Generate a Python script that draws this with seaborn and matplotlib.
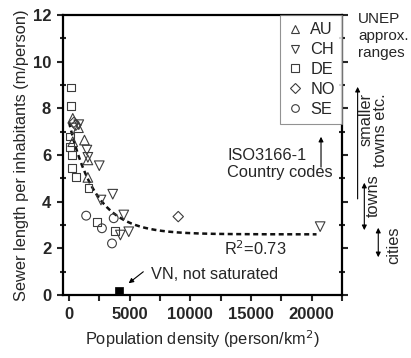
import numpy as np
import pandas as pd
import matplotlib
matplotlib.use('Agg')
import matplotlib.pyplot as plt
import seaborn as sns
from matplotlib.lines import Line2D

# data
au_x = [305, 775, 305, 1270, 1550, 1550]
au_y = [7.57, 7.17, 6.57, 6.64, 5.79, 5.04]
ch_x = [800, 1470, 1550, 2490, 3600, 2630, 4510, 4920, 4230, 20700]
ch_y = [7.3, 6.21, 5.9, 5.54, 4.32, 4.07, 3.43, 2.71, 2.57, 2.93]
de_x = [166, 166, 83, 83, 274, 224, 556, 1600, 2300, 3820]
de_y = [8.89, 8.11, 6.79, 6.33, 6.0, 5.46, 5.07, 4.57, 3.14, 2.76]
no_x = [400, 560, 9000]
no_y = [7.4, 7.28, 3.36]
se_x = [1410, 2710, 3680, 3540]
se_y = [3.4, 2.86, 3.29, 2.21]
vn_x = [4100]
vn_y = [0.17]

countries = ['AU', 'CH', 'DE', 'NO', 'SE']
marker_map = {'AU': '^', 'CH': 'v', 'DE': 's', 'NO': 'D', 'SE': 'o'}
size_map = {'AU': 48, 'CH': 48, 'DE': 32, 'NO': 28, 'SE': 40}

# exponential fit: y = c + a*exp(-x/t)
fit_c, fit_a, fit_t = 2.6, 4.8, 2200
fit_xmax = 20400

df = pd.concat([
    pd.DataFrame({'x': au_x, 'y': au_y, 'Country': 'AU'}),
    pd.DataFrame({'x': ch_x, 'y': ch_y, 'Country': 'CH'}),
    pd.DataFrame({'x': de_x, 'y': de_y, 'Country': 'DE'}),
    pd.DataFrame({'x': no_x, 'y': no_y, 'Country': 'NO'}),
    pd.DataFrame({'x': se_x, 'y': se_y, 'Country': 'SE'}),
])

sns.set_style('ticks')
plt.rcParams['font.family'] = ['Liberation Sans', 'DejaVu Sans']
fs = 11.8

fig = plt.figure(figsize=(4.11, 3.58), dpi=100)
ax = fig.add_axes([63 / 411, 1 - 295 / 358, 279 / 411, 280 / 358])

# fitted curve
fx = np.linspace(0, fit_xmax, 300)
fy = fit_c + fit_a * np.exp(-fx / fit_t)
sns.lineplot(x=fx, y=fy, ax=ax, color='#111111', linewidth=1.8,
             linestyle=(0, (2.0, 1.4)), legend=False)

for c in countries:
    sub = df[df['Country'] == c]
    sns.scatterplot(data=sub, x='x', y='y', ax=ax, marker=marker_map[c],
                    s=size_map[c], facecolor='none', edgecolor='#3c3c3c',
                    linewidth=0.8, legend=False, zorder=3)

sns.scatterplot(x=vn_x, y=vn_y, ax=ax, marker='s', s=40, color='black',
                edgecolor='black', legend=False, zorder=4, clip_on=False)

ax.set_xlim(-500, 22500)
ax.set_ylim(0, 12)
ax.set_xticks([0, 5000, 10000, 15000, 20000])
ax.set_xticks(np.arange(0, 22501, 2500), minor=True)
ax.set_yticks([0, 2, 4, 6, 8, 10, 12])
ax.set_yticks(np.arange(0, 12.1, 1), minor=True)
ax.set_xlabel('Population density (person/km$^2$)', fontsize=fs, labelpad=5)
ax.set_ylabel('Sewer length per inhabitants (m/person)', fontsize=fs, labelpad=3)

for s in ax.spines.values():
    s.set_linewidth(1.6)
    s.set_color('black')
ax.tick_params(axis='both', which='major', width=1.5, length=4.5, pad=4,
               labelsize=12, right=True, top=False)
ax.tick_params(axis='x', which='minor', width=1.5, length=4.5, direction='out')
ax.tick_params(axis='y', which='minor', width=1.5, length=4, direction='inout', right=True)
for lab in ax.get_xticklabels() + ax.get_yticklabels():
    lab.set_fontweight('bold')

# legend
handles = [Line2D([], [], marker=marker_map[c], linestyle='none', markerfacecolor='none',
                  markeredgecolor='#3c3c3c', markersize=5.5, markeredgewidth=0.8)
           for c in countries]
leg = ax.legend(handles, countries, loc='upper right', frameon=True, fancybox=False,
                borderaxespad=0, fontsize=fs, labelspacing=0.3, handletextpad=0.4,
                handlelength=1.0, borderpad=0.45)
leg.get_frame().set_edgecolor('#777777')
leg.get_frame().set_linewidth(0.8)

# annotations
ax.text(12780, 2.0, 'R$^2$=0.73', fontsize=fs, va='center', ha='left')
ax.text(13030, 5.6, 'ISO3166-1\nCountry codes', fontsize=fs, va='center', ha='left',
        linespacing=1.15)
ax.annotate('', xy=(20770, 6.9), xytext=(20770, 5.36),
            arrowprops=dict(arrowstyle='-|>', color='black', lw=0.8, mutation_scale=7))
ax.text(6720, 0.88, 'VN, not saturated', fontsize=fs, va='center', ha='left')
ax.annotate('', xy=(4730, 0.43), xytext=(6300, 1.07),
            arrowprops=dict(arrowstyle='-|>', color='black', lw=0.8, mutation_scale=7))

# UNEP ranges on the right
tr = ax.get_yaxis_transform()
ax.text(1.057, 1.01, 'UNEP\napprox.\nranges', transform=ax.transAxes, va='top', ha='left',
        fontsize=11, linespacing=1.25)
ax.annotate('', xy=(1.056, 9.04), xytext=(1.056, 4.0), xycoords=tr, textcoords=tr,
            arrowprops=dict(arrowstyle='-|>', color='black', lw=0.8, mutation_scale=7),
            annotation_clip=False)
ax.annotate('', xy=(1.080, 4.93), xytext=(1.080, 2.66), xycoords=tr, textcoords=tr,
            arrowprops=dict(arrowstyle='<|-|>', color='black', lw=0.8, mutation_scale=7),
            annotation_clip=False)
ax.annotate('', xy=(1.130, 3.0), xytext=(1.130, 1.5), xycoords=tr, textcoords=tr,
            arrowprops=dict(arrowstyle='<|-|>', color='black', lw=0.8, mutation_scale=7),
            annotation_clip=False)
ax.text(1.112, 7.07, 'smaller\ntowns etc.', transform=tr, rotation=90, va='center',
        ha='center', multialignment='right', fontsize=fs, linespacing=0.95)
ax.text(1.112, 4.24, 'towns', transform=tr, rotation=90, va='center', ha='center',
        fontsize=fs)
ax.text(1.184, 2.14, 'cities', transform=tr, rotation=90, va='center', ha='center',
        fontsize=fs)

fig.savefig('out.png', dpi=100)
